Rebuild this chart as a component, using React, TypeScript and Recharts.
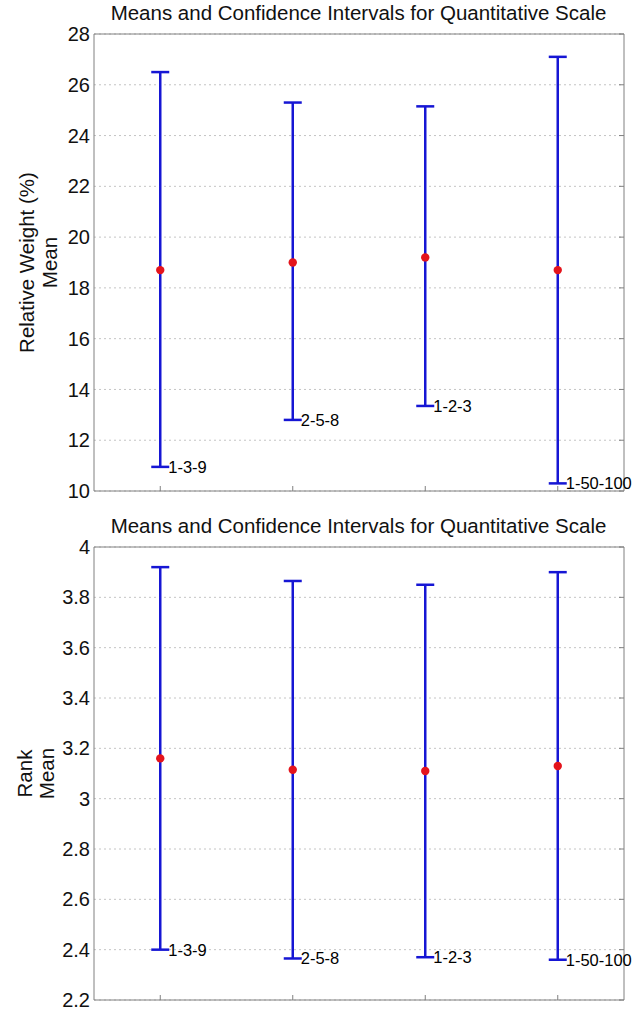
import React from 'react';
import { ScatterChart, Scatter, XAxis, YAxis, CartesianGrid, ErrorBar } from 'recharts';

const scales = ['1-3-9', '2-5-8', '1-2-3', '1-50-100'];
const positions = [1, 2, 3, 4];

// relative weight (%)
const weightMean = [18.7, 19.0, 19.2, 18.7];
const weightLower = [10.95, 12.8, 13.35, 10.3];
const weightUpper = [26.5, 25.3, 25.15, 27.1];
const weightTicks = [10, 12, 14, 16, 18, 20, 22, 24, 26, 28];

// rank
const rankMean = [3.16, 3.115, 3.11, 3.13];
const rankLower = [2.4, 2.365, 2.37, 2.36];
const rankUpper = [3.92, 3.865, 3.85, 3.9];
const rankTicks = [2.2, 2.4, 2.6, 2.8, 3, 3.2, 3.4, 3.6, 3.8, 4];

const title = 'Means and Confidence Intervals for Quantitative Scale';
const BLUE = '#1616d4';
const RED = '#e4141c';
const AXIS = '#808080';
const FONT = '"Liberation Sans", Arial, sans-serif';

const Dot = (p: any) => <circle cx={p.cx} cy={p.cy} r={4.2} fill={RED} />;

const LowLabel = (p: any) => (
  <text x={p.cx + 8} y={p.cy} dy="0.36em" fontSize={16.5} fill="#000">
    {p.payload.label}
  </text>
);

type PanelProps = {
  top: number;
  height: number;
  marginTop: number;
  marginBottom: number;
  mean: number[];
  lower: number[];
  upper: number[];
  ticks: number[];
  domain: [number, number];
  label: string[];
  labelX: number[];
};

const Panel = ({ top, height, marginTop, marginBottom, mean, lower, upper, ticks, domain, label, labelX }: PanelProps) => {
  const means = positions.map((x, i) => ({ x, y: mean[i], err: [mean[i] - lower[i], upper[i] - mean[i]] }));
  const lows = positions.map((x, i) => ({ x, y: lower[i], label: scales[i] }));
  const plotH = height - marginTop - marginBottom;
  const cy = marginTop + plotH / 2;

  return (
    <div style={{ position: 'absolute', left: 0, top, width: 642, height }}>
      <div
        style={{
          position: 'absolute',
          left: 94,
          width: 529,
          top: marginTop - 34,
          textAlign: 'center',
          fontSize: 20.5,
          color: '#111',
          whiteSpace: 'nowrap',
        }}
      >
        {title}
      </div>
      <svg style={{ position: 'absolute', left: 0, top: 0 }} width={90} height={height}>
        {label.map((t, i) => (
          <text
            key={t}
            x={labelX[i]}
            y={cy}
            fontSize={20.5}
            textAnchor="middle"
            fill="#111"
            transform={`rotate(-90, ${labelX[i]}, ${cy})`}
          >
            {t}
          </text>
        ))}
      </svg>
      <ScatterChart
        width={642}
        height={height}
        margin={{ top: marginTop - 1, right: 18, bottom: marginBottom - 1, left: 54 }}
        style={{ position: 'absolute', left: 0, top: 0 }}
      >
        <CartesianGrid vertical={false} stroke="#c4c4c4" strokeDasharray="2 3" />
        <XAxis
          type="number"
          dataKey="x"
          domain={[0.5, 4.5]}
          ticks={positions}
          height={1}
          mirror
          tickSize={5}
          tickFormatter={() => ''}
          stroke={AXIS}
        />
        <XAxis
          xAxisId="top"
          orientation="top"
          type="number"
          dataKey="x"
          domain={[0.5, 4.5]}
          ticks={positions}
          height={1}
          mirror
          tickSize={5}
          tickFormatter={() => ''}
          stroke={AXIS}
        />
        <YAxis
          type="number"
          dataKey="y"
          domain={domain}
          ticks={ticks}
          interval={0}
          allowDataOverflow
          width={40}
          tickLine={false}
          tickSize={0}
          tickMargin={4}
          stroke={AXIS}
          tick={{ fontSize: 20, fill: '#111' }}
        />
        <YAxis
          yAxisId="right"
          orientation="right"
          type="number"
          dataKey="y"
          domain={domain}
          ticks={ticks}
          interval={0}
          allowDataOverflow
          width={1}
          mirror
          tickSize={5}
          tickFormatter={() => ''}
          stroke={AXIS}
        />
        <Scatter data={means} shape={Dot} isAnimationActive={false}>
          <ErrorBar dataKey="err" direction="y" width={9} stroke={BLUE} strokeWidth={2.5} />
        </Scatter>
        <Scatter data={lows} shape={LowLabel} isAnimationActive={false} />
      </ScatterChart>
    </div>
  );
};

export default function App() {
  return (
    <div style={{ position: 'absolute', left: 0, top: 0, width: 642, height: 1011, background: '#fff', fontFamily: FONT }}>
      <Panel
        top={0}
        height={505}
        marginTop={35}
        marginBottom={15}
        mean={weightMean}
        lower={weightLower}
        upper={weightUpper}
        ticks={weightTicks}
        domain={[10, 28]}
        label={['Relative Weight (%)', 'Mean']}
        labelX={[34, 57]}
      />
      <Panel
        top={505}
        height={506}
        marginTop={43}
        marginBottom={12}
        mean={rankMean}
        lower={rankLower}
        upper={rankUpper}
        ticks={rankTicks}
        domain={[2.2, 4]}
        label={['Rank', 'Mean']}
        labelX={[32, 54]}
      />
    </div>
  );
}
